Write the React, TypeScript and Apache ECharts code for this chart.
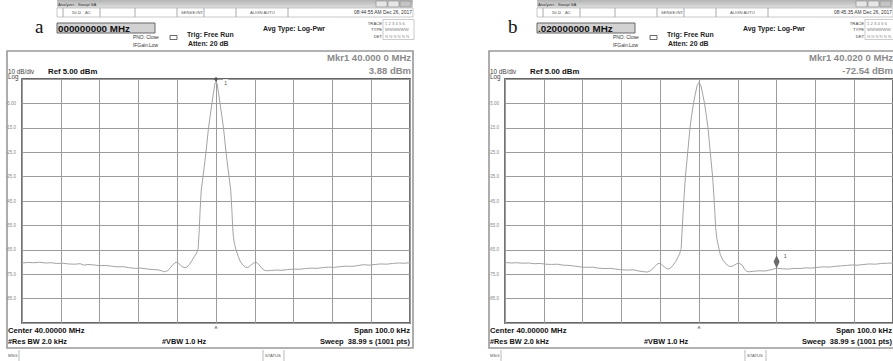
import React, { useEffect, useRef } from "react";
import * as echarts from "echarts";

// Analyzer settings shared by both screens
const CENTER_MHZ = 40.0;
const SPAN_KHZ = 100.0;
const REF_LEVEL = 5; // dBm at the top graticule line
const DB_PER_DIV = 10;
const DIVISIONS = 10;
const BOTTOM_LEVEL = REF_LEVEL - DB_PER_DIV * DIVISIONS; // -95 dBm

// Screen (a): trace, offsets from centre in kHz and levels in dBm
const FREQ_A = [
  -50, -48.5, -47, -45.5, -44, -42.5, -41, -39.5, -38, -36.5, -35, -34, -33, -31.5, -30, -28.5, -27,
  -25.5, -24, -22.5, -21, -19.5, -18, -16.5, -15, -14, -13.3, -12.5, -11.8, -11, -10.3, -9.6, -8.9,
  -8.2, -7.5, -6.8, -6.2, -5.6, -5.0, -4.6, -4.35, -4.1, -3.8, -3.35, -2.58, -1.93, -1.05, -0.6, -0.3,
  0, 0.3, 0.6, 1.05, 1.93, 2.58, 3.35, 3.8, 4.1, 4.3, 4.5, 4.8, 5.2, 5.7, 6.2, 6.9, 7.6, 8.2, 8.9,
  9.6, 10.3, 11.0, 11.7, 12.4, 13.0, 14, 15.5, 17, 18.5, 20, 21.5, 23, 24.5, 26, 27.5, 29, 30.5, 32,
  33.5, 35, 36.5, 38, 39.5, 41, 42.5, 44, 45.5, 47, 48.5, 50,
];
const LEVEL_A = [
  -70.4, -70.2, -70.3, -70.1, -70.4, -70.3, -70.6, -70.5, -70.8, -70.9, -70.7, -71.3, -71.0, -71.2,
  -71.5, -71.4, -71.7, -72.0, -71.9, -72.3, -72.6, -72.5, -72.8, -73.1, -73.2, -73.6, -74.0, -73.6,
  -72.4, -70.9, -70.1, -70.6, -71.7, -72.3, -72.1, -70.9, -69.4, -67.8, -66.3, -64.5, -58, -49,
  -40.5, -35, -25, -15, -5, -0.2, 3.0, 3.88, 3.0, -0.2, -5, -15, -25, -35, -40.5, -49, -56, -60,
  -62.8, -65.2, -67.6, -69.6, -71.2, -72.1, -72.3, -71.4, -70.5, -70.1, -70.9, -72.4, -73.3, -73.6,
  -73.5, -73.3, -73.4, -73.1, -72.9, -73.0, -72.7, -72.5, -72.6, -72.3, -72.1, -72.2, -71.9, -71.7,
  -71.8, -71.5, -71.1, -71.3, -71.0, -70.8, -70.9, -70.6, -70.4, -70.5, -70.3,
];

// Screen (b): same signal, marker moved to +20 kHz
const FREQ_B = [
  -50, -48.5, -47, -45.5, -44, -42.5, -41, -39.5, -38, -36.5, -35, -33.5, -32, -30.5, -29, -27.5, -26,
  -24.5, -23, -21.5, -20, -18.5, -17, -15.5, -14.2, -13.2, -12.3, -11.5, -10.8, -10.3, -9.6, -8.9,
  -8.1, -7.4, -6.7, -6.0, -5.4, -5.0, -4.6, -4.35, -4.1, -3.8, -3.5, -2.9, -2.32, -1.9, -1.42, -1.0,
  -0.5, 0, 0.5, 1.0, 1.42, 1.9, 2.32, 2.9, 3.5, 3.8, 4.1, 4.3, 4.6, 5.0, 5.5, 6.2, 6.9, 7.6, 8.3, 9.0,
  9.7, 10.4, 11.1, 11.7, 12.3, 13.0, 14, 15.5, 17, 18.5, 20, 21.5, 23, 24.5, 26, 27.5, 29, 30.5, 32,
  33.5, 35, 36.5, 38, 39.5, 41, 42.5, 44, 45.5, 47, 48.5, 50,
];
const LEVEL_B = [
  -70.2, -70.4, -70.3, -70.5, -70.4, -70.7, -70.6, -70.9, -71.0, -70.9, -71.3, -71.4, -71.7, -72.0,
  -72.2, -72.1, -72.5, -72.7, -72.6, -72.9, -73.2, -73.3, -73.2, -73.7, -74.0, -74.1, -73.4, -72.0,
  -70.9, -70.5, -71.0, -72.1, -72.9, -72.6, -71.3, -69.8, -67.9, -66.7, -64.5, -57, -50, -42, -35,
  -25, -15, -10, -5, -1.5, 2.2, 3.6, 2.2, -1.5, -5, -10, -15, -25, -35, -42, -50, -56, -60.5, -63.5,
  -67, -69.3, -70.7, -71.6, -71.9, -71.4, -70.7, -70.5, -71.2, -72.8, -73.9, -74.0, -73.8, -73.6,
  -73.7, -73.2, -72.54, -72.8, -72.9, -72.6, -72.7, -72.4, -72.5, -72.2, -72.0, -72.1, -71.8, -71.6,
  -71.4, -71.2, -71.3, -71.0, -70.8, -70.9, -70.6, -70.5, -70.4,
];

// Marker 1 on each screen: offset in kHz, level in dBm
const MARKER_A = [0, 3.88];
const MARKER_B = [20, -72.54];

// Header texts for each screen
const LETTERS = ["a", "b"];
const FREQ_READOUTS = ["000000000 MHz", ".020000000 MHz"];
const TIMESTAMPS = ["08:44:55 AM Dec 26, 2017", "08:45:35 AM Dec 26, 2017"];

// Screen placement on the page
const LAYOUT = [
  { letterX: 35, headerX: 57, frameX: 7, plotX: 22 },
  { letterX: 508, headerX: 537, frameX: 489, plotX: 505 },
];
const PLOT_TOP = 79;
const PLOT_W = 388;
const PLOT_H = 244;

const SANS = "'Liberation Sans', Arial, sans-serif";
const SERIF = "'Liberation Serif', 'Times New Roman', serif";

function txt(
  x: number,
  y: number,
  text: string,
  size: number,
  o: { bold?: boolean; color?: string; align?: string; family?: string } = {}
) {
  const align = o.align || "left";
  return {
    type: "text",
    x,
    y,
    silent: true,
    style: {
      text,
      font: `${o.bold ? "bold " : ""}${size}px ${o.family || SANS}`,
      fill: o.color || "#222",
      textAlign: align,
      align,
      textVerticalAlign: "middle",
      verticalAlign: "middle",
    },
  };
}

function rect(x: number, y: number, w: number, h: number, style: any) {
  return { type: "rect", silent: true, shape: { x, y, width: w, height: h }, style };
}

function vline(x: number, y1: number, y2: number, color = "#aaa") {
  return {
    type: "line",
    silent: true,
    shape: { x1: x, y1, x2: x, y2 },
    style: { stroke: color, lineWidth: 1 },
  };
}

function formatMkrFreq(offsetKHz: number) {
  const s = (CENTER_MHZ + offsetKHz / 1000).toFixed(4);
  return `${s.slice(0, -1)} ${s.slice(-1)}`;
}

function screenGraphics(i: number, marker: number[]) {
  const L = LAYOUT[i];
  const hx = L.headerX;
  const fx = L.frameX;
  const els: any[] = [];

  els.push(txt(L.letterX, 26.5, LETTERS[i], 19, { family: SERIF, color: "#111" }));

  // window title bar
  els.push(
    rect(hx, 0, 356, 8, {
      fill: new echarts.graphic.LinearGradient(0, 0, 0, 1, [
        { offset: 0, color: "#b4b4b4" },
        { offset: 1, color: "#e0e0e0" },
      ]),
    })
  );
  els.push(txt(hx + 1, 4, "Analyzer - Swept SA", 4.2, { color: "#333" }));
  [319, 331, 343].forEach((dx, k) =>
    els.push(rect(hx + dx, 1, 11, 6, { fill: k === 2 ? "#c4c4c4" : "#e6e6e6", stroke: "#888", lineWidth: 0.6 }))
  );

  // status row
  els.push(rect(hx, 8, 356, 9, { fill: "#fff", stroke: "#bbb", lineWidth: 0.8 }));
  [6, 43, 78, 120, 147, 179, 231].forEach((dx) => els.push(vline(hx + dx, 8, 17)));
  els.push(txt(hx + 15, 12.5, "50 Ω", 4.2, { color: "#555" }));
  els.push(txt(hx + 28, 12.5, "AC", 4.2, { color: "#555" }));
  els.push(txt(hx + 124, 12.5, "SENSE:INT", 4.2, { color: "#555" }));
  els.push(txt(hx + 193, 12.5, "ALIGN AUTO", 4.2, { color: "#555" }));
  els.push(txt(hx + 355, 12.5, TIMESTAMPS[i], 4.9, { color: "#333", align: "right" }));

  // centre frequency readout
  els.push(rect(hx, 23, 98, 10, { fill: "#d2d2d2", stroke: "#666", lineWidth: 1 }));
  els.push(txt(hx + 1, 28, FREQ_READOUTS[i], 9.8, { bold: true, color: "#111" }));

  els.push(txt(hx + 76, 37, "PNO: Close", 4.9, { color: "#333" }));
  els.push(txt(hx + 76, 45, "IFGain:Low", 4.9, { color: "#333" }));
  els.push(rect(hx + 113, 35.5, 7, 4, { fill: "none", stroke: "#444", lineWidth: 0.8, r: 1 }));
  els.push(txt(hx + 130, 34, "Trig: Free Run", 6.9, { bold: true, color: "#222" }));
  els.push(txt(hx + 131, 43, "Atten: 20 dB", 6.9, { bold: true, color: "#222" }));
  els.push(txt(hx + 206, 28, "Avg Type: Log-Pwr", 6.9, { bold: true, color: "#222" }));

  // trace table
  els.push(txt(fx + 375, 23, "TRACE", 4.2, { color: "#444", align: "right" }));
  els.push(txt(fx + 375, 29.5, "TYPE", 4.2, { color: "#444", align: "right" }));
  els.push(txt(fx + 375, 36, "DET", 4.2, { color: "#444", align: "right" }));
  els.push(rect(fx + 376, 19.5, 31, 20, { fill: "none", stroke: "#aaa", lineWidth: 0.6 }));
  els.push(txt(fx + 378, 23, "1 2 3 4 5 6", 4.2, { color: "#777" }));
  els.push(txt(fx + 378, 29.5, "WWWWWW", 4.2, { color: "#777" }));
  els.push(txt(fx + 378, 36, "N N N N N N", 4.2, { color: "#999" }));

  // measurement frame
  els.push(rect(fx, 51, 406, 297, { fill: "none", stroke: "#999", lineWidth: 1.6 }));
  els.push(txt(fx + 404, 57.5, `Mkr1 ${formatMkrFreq(marker[0])} MHz`, 9.5, { bold: true, color: "#8a8a8a", align: "right" }));
  els.push(txt(fx + 404, 70, `${marker[1].toFixed(2)} dBm`, 9.5, { bold: true, color: "#8a8a8a", align: "right" }));
  els.push(txt(fx + 1, 71, `${DB_PER_DIV} dB/div`, 6.3, { color: "#444" }));
  els.push(txt(fx + 1, 76.5, "Log", 6.3, { color: "#444" }));
  els.push(txt(fx + 41, 71, `Ref ${REF_LEVEL.toFixed(2)} dBm`, 7.8, { bold: true, color: "#111" }));

  els.push(txt(fx + 1, 330.5, `Center ${CENTER_MHZ.toFixed(5)} MHz`, 7.7, { bold: true, color: "#111" }));
  els.push(txt(fx + 1, 341, "#Res BW 2.0 kHz", 7.3, { bold: true, color: "#111" }));
  els.push(txt(fx + 155, 341, "#VBW 1.0 Hz", 7.3, { bold: true, color: "#111" }));
  els.push(txt(fx + 403, 330.5, `Span ${SPAN_KHZ.toFixed(1)} kHz`, 7.7, { bold: true, color: "#111", align: "right" }));
  els.push(txt(fx + 403, 341, "Sweep  38.99 s (1001 pts)", 7.5, { bold: true, color: "#111", align: "right" }));

  // message line
  els.push(txt(fx + 1, 355, "MSG", 4.2, { color: "#555" }));
  els.push(vline(fx + 12, 350, 361, "#bbb"));
  els.push(vline(fx + 256, 350, 361, "#bbb"));
  els.push(vline(fx + 277, 350, 361, "#bbb"));
  els.push(txt(fx + 258, 355, "STATUS", 4.2, { color: "#555" }));
  return els;
}

function levelLabel(v: number) {
  const lvl = v + BOTTOM_LEVEL;
  return Math.abs(lvl) < 10 ? lvl.toFixed(2) : lvl.toFixed(1);
}

function traceSeries(idx: number, freqs: number[], levels: number[], marker: number[], big: boolean) {
  return {
    type: "line",
    xAxisIndex: idx,
    yAxisIndex: idx,
    data: freqs.map((f, i) => [f, levels[i] - BOTTOM_LEVEL]),
    symbol: "none",
    showSymbol: false,
    smooth: false,
    lineStyle: { color: "#a3a3a3", width: 1 },
    z: 3,
    markPoint: {
      silent: true,
      animation: false,
      data: [
        {
          coord: [marker[0], marker[1] - BOTTOM_LEVEL],
          symbol: "diamond",
          symbolSize: big ? [6, 13] : [4, 5],
          symbolOffset: [0, "-50%"],
          itemStyle: { color: big ? "#6a6a6a" : "#555" },
          label: {
            show: true,
            formatter: "1",
            position: "right",
            offset: big ? [-1, -6] : [0, 4],
            fontSize: 6,
            fontFamily: SANS,
            color: "#666",
            backgroundColor: big ? "transparent" : "#fff",
            padding: big ? 0 : [1, 1, 1, 1],
          },
        },
        {
          coord: [0, 0],
          symbol: "triangle",
          symbolSize: [4, 3],
          symbolOffset: [0, 4],
          itemStyle: { color: "#999" },
          label: { show: false },
        },
      ],
    },
  };
}

export default function App() {
  const ref = useRef<HTMLDivElement>(null);

  useEffect(() => {
    if (!ref.current) return;
    const chart = echarts.init(ref.current, undefined, { renderer: "svg" });

    const grids = LAYOUT.map((L) => ({
      left: L.plotX,
      top: PLOT_TOP,
      width: PLOT_W,
      height: PLOT_H,
      show: true,
      borderColor: "#666",
      borderWidth: 1.8,
      backgroundColor: "#fff",
    }));

    const xAxes = LAYOUT.map((_, i) => ({
      type: "value",
      gridIndex: i,
      min: -SPAN_KHZ / 2,
      max: SPAN_KHZ / 2,
      interval: SPAN_KHZ / DIVISIONS,
      axisLine: { show: false },
      axisTick: { show: false },
      axisLabel: { show: false },
      splitLine: { show: true, lineStyle: { color: "#9c9c9c", width: 1 } },
    }));

    const yAxes = LAYOUT.map((_, i) => ({
      type: "value",
      gridIndex: i,
      min: 0,
      max: DB_PER_DIV * DIVISIONS,
      interval: DB_PER_DIV,
      axisLine: { show: false },
      axisTick: { show: false },
      axisLabel: {
        show: true,
        showMinLabel: false,
        showMaxLabel: false,
        formatter: levelLabel,
        fontSize: 4.5,
        fontFamily: SANS,
        color: "#888",
        margin: 6,
      },
      splitLine: { show: true, lineStyle: { color: "#9c9c9c", width: 1 } },
    }));

    chart.setOption({
      animation: false,
      backgroundColor: "#fff",
      grid: grids,
      xAxis: xAxes,
      yAxis: yAxes,
      series: [
        traceSeries(0, FREQ_A, LEVEL_A, MARKER_A, false),
        traceSeries(1, FREQ_B, LEVEL_B, MARKER_B, true),
      ],
      graphic: { elements: [...screenGraphics(0, MARKER_A), ...screenGraphics(1, MARKER_B)] },
    });

    return () => chart.dispose();
  }, []);

  return (
    <div
      ref={ref}
      style={{ position: "fixed", left: 0, top: 0, width: 893, height: 361, background: "#fff" }}
    />
  );
}
